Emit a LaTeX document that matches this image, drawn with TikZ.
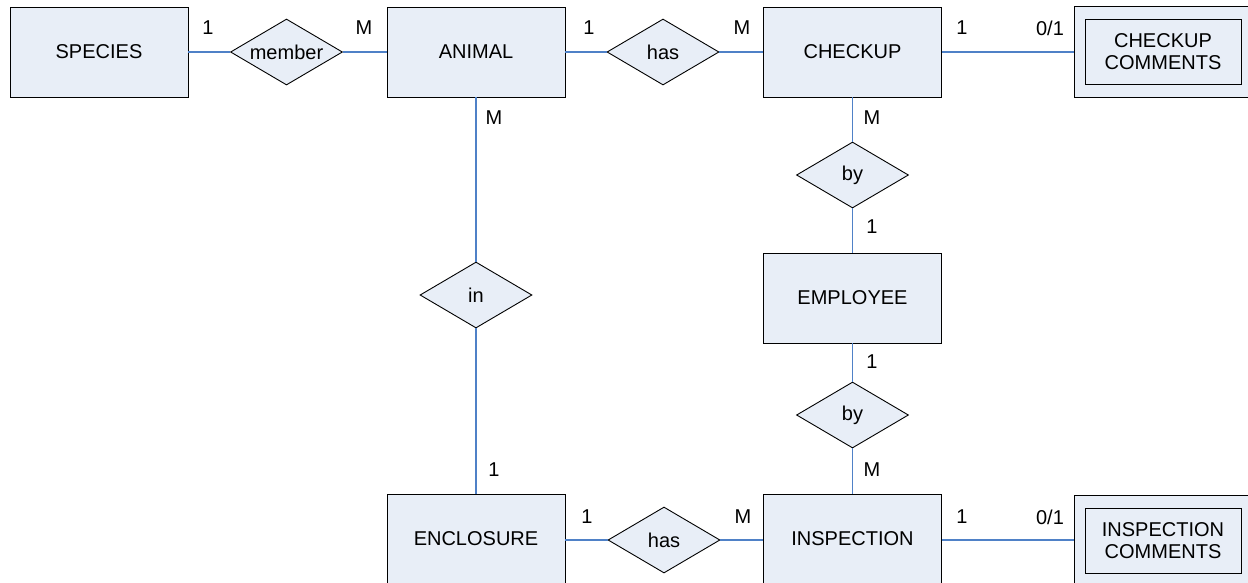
\documentclass[tikz,border=0pt]{standalone}
\usepackage{fontspec}
\setmainfont{Liberation Sans}
\usetikzlibrary{shapes.geometric}
\definecolor{boxfill}{RGB}{232,238,247}
\definecolor{linkblue}{RGB}{79,129,199}
\tikzset{
  entity/.style={draw=black, fill=boxfill, line width=0.9pt, minimum width=178pt, minimum height=90pt, inner sep=0pt, font=\fontsize{20}{22}\selectfont},
  weakouter/.style={draw=black, fill=boxfill, line width=0.9pt, minimum width=178pt, minimum height=91pt, inner sep=0pt},
  weakinner/.style={draw=black, fill=boxfill, line width=0.9pt, minimum width=156pt, minimum height=65pt, inner sep=0pt, align=center, font=\fontsize{20}{22}\selectfont},
  rel/.style={draw=black, fill=boxfill, diamond, line width=0.9pt, minimum width=112pt, minimum height=66pt, inner sep=0pt, font=\fontsize{20}{22}\selectfont},
  conn/.style={draw=linkblue, line width=1.2pt},
  card/.style={inner sep=0pt, font=\fontsize{20}{22}\selectfont}
}
\begin{document}
\begin{tikzpicture}[x=1pt,y=-1pt]
\useasboundingbox (0,0) rectangle (1248,582);
\clip (0,0) rectangle (1248,582);
% entities
\node[entity] (species) at (99,52) {SPECIES};
\node[entity] (animal) at (476,52) {ANIMAL};
\node[entity] (checkup) at (852.5,52) {CHECKUP};
\node[entity] (employee) at (852.5,298) {EMPLOYEE};
\node[entity] (enclosure) at (476,539) {ENCLOSURE};
\node[entity] (inspection) at (852.5,539) {INSPECTION};
\node[weakouter] (ccout) at (1163,51.5) {};
\node[weakinner] (cc) at (1163,51.5) {CHECKUP\\COMMENTS};
\node[weakouter] (icout) at (1163,541) {};
\node[weakinner] (ic) at (1163,540.5) {INSPECTION\\COMMENTS};
% relationships
\node[rel] (member) at (286.5,52) {\makebox[0pt]{member}};
\node[rel] (has1) at (663,52) {\makebox[0pt]{has}};
\node[rel] (by1) at (852.5,175) {\makebox[0pt]{by}};
\node[rel] (by2) at (852.5,415) {\makebox[0pt]{by}};
\node[rel] (in) at (476,295) {\makebox[0pt]{in}};
\node[rel] (has2) at (664,540) {\makebox[0pt]{has}};
% connectors
\draw[conn] (species.east) -- (member.west);
\draw[conn] (member.east) -- (animal.west);
\draw[conn] (animal.east) -- (has1.west);
\draw[conn] (has1.east) -- (checkup.west);
\draw[conn] (checkup.east) -- (ccout.west |- checkup.east);
\draw[conn] (checkup.south) -- (by1.north);
\draw[conn] (by1.south) -- (employee.north);
\draw[conn] (employee.south) -- (by2.north);
\draw[conn] (by2.south) -- (inspection.north);
\draw[conn] (animal.south) -- (in.north);
\draw[conn] (in.south) -- (enclosure.north);
\draw[conn] (enclosure.east |- has2.west) -- (has2.west);
\draw[conn] (has2.east) -- (inspection.west |- has2.east);
\draw[conn] (inspection.east |- has2.east) -- (icout.west |- has2.east);
% cardinalities
\node[card] (c1) at (208,28) {1};
\node[card] (c2) at (364,28) {M};
\node[card] (c3) at (589,28) {1};
\node[card] (c4) at (742,28) {M};
\node[card] (c5) at (962,28) {1};
\node[card] (c6) at (1050,28) {0/1};
\node[card] (c7) at (494,118) {M};
\node[card] (c8) at (494,470) {1};
\node[card] (c9) at (872,118) {M};
\node[card] (c10) at (872,227) {1};
\node[card] (c11) at (872,362) {1};
\node[card] (c12) at (872,470) {M};
\node[card] (c13) at (587,517) {1};
\node[card] (c14) at (743,517) {M};
\node[card] (c15) at (962,517) {1};
\node[card] (c16) at (1050,517) {0/1};
\end{tikzpicture}
\end{document}
